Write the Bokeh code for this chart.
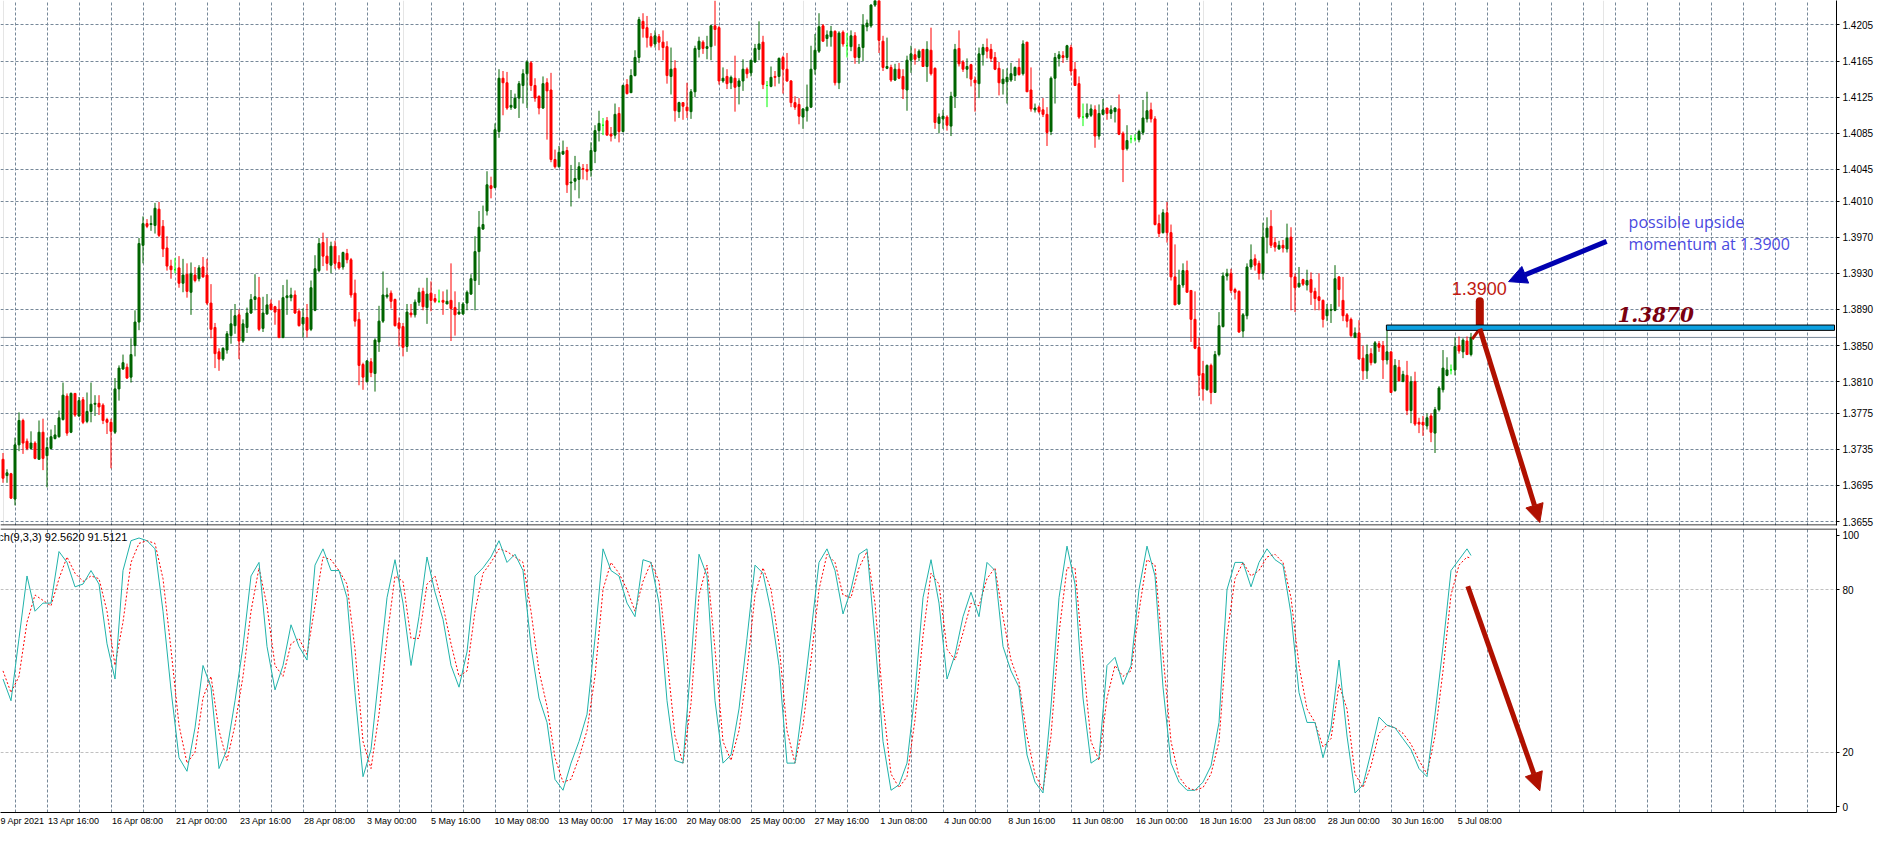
import numpy as np
from bokeh.plotting import figure
from bokeh.models import (Range1d, FixedTicker, Grid, Label, Arrow, NormalHead,
                          BoxAnnotation, ColumnDataSource)
from bokeh.layouts import column
from bokeh.embed import file_html
from bokeh.resources import INLINE

# ---------------- data (H4 candles, values in pips above BASE) ----------------
BASE = 1.3600
PIP = 0.0001

open_pips = [124,106,108,80,140,167,144,136,142,124,154,128,136,147,149,168,194,154,197,172,
190,166,177,185,186,184,168,165,154,202,224,226,215,250,276,361,385,384,383,401,
382,358,338,334,336,319,329,309,328,324,337,328,297,270,243,235,245,261,272,284,
255,270,286,301,303,269,285,296,293,290,259,303,303,306,288,274,281,268,289,333,
364,349,339,360,342,337,352,345,308,279,229,210,232,219,254,277,304,308,301,275,
271,249,286,284,298,310,292,308,302,299,300,296,300,292,285,285,297,307,322,354,
379,399,427,425,487,546,541,514,513,524,538,551,563,538,526,513,541,533,456,448,
462,466,430,432,434,446,445,444,465,488,494,499,484,483,507,487,539,530,549,569,
609,602,592,584,592,586,581,548,557,509,519,514,509,531,578,586,579,581,604,602,
543,548,541,546,537,543,556,552,564,578,586,538,537,548,548,569,556,543,519,517,
503,510,514,556,576,604,590,592,598,541,597,582,581,593,569,580,603,604,627,632,
587,557,558,544,556,548,533,566,572,569,578,559,577,557,496,501,503,493,526,579,
564,556,561,544,540,572,580,578,569,557,540,542,544,549,558,551,586,533,511,514,
511,506,487,546,568,571,569,580,556,540,503,503,505,511,482,506,513,507,509,512,
485,468,479,479,478,486,501,511,501,385,375,397,375,326,296,317,333,311,279,248,
219,201,228,198,240,271,327,330,312,310,266,283,337,346,341,330,370,382,364,357,
361,357,370,326,315,323,317,323,310,304,300,283,289,289,326,300,284,279,259,264,
236,222,241,231,252,250,234,243,200,226,210,217,178,210,165,165,161,172,153,179,
201,217,223,223,250,243,255,240]
high_pips = [131,113,109,148,176,169,147,155,144,167,169,148,157,162,178,209,197,198,197,193,
193,198,209,195,195,186,170,169,214,228,240,230,258,289,369,393,390,394,408,409,
389,371,345,347,349,346,341,342,337,339,348,346,318,275,247,248,266,290,296,290,
279,292,307,329,326,304,307,301,294,300,317,323,314,311,291,291,296,322,350,369,
375,369,365,366,350,354,357,347,323,287,231,234,236,258,294,332,314,311,302,281,
275,296,296,301,314,314,325,321,307,312,310,312,341,310,298,298,311,329,371,399,
405,443,437,496,556,554,553,533,529,543,556,566,565,546,527,548,546,552,467,471,
477,470,450,460,453,451,451,475,494,510,502,503,492,518,514,539,545,556,577,614,
618,615,596,599,595,599,587,580,566,520,519,541,534,582,592,588,593,605,632,604,
558,556,549,571,546,567,558,566,584,609,593,543,559,554,569,571,574,544,526,524,
513,539,582,595,618,606,599,604,599,598,599,596,599,597,584,617,611,628,636,636,
593,591,561,562,563,556,571,582,579,578,578,587,602,558,507,511,505,531,584,599,
566,568,562,548,580,584,590,584,575,564,556,557,563,559,568,588,586,558,518,516,
524,514,548,574,576,576,583,583,564,548,518,518,517,516,517,523,513,516,514,528,
487,494,483,484,489,522,531,519,504,395,401,409,384,362,334,341,344,311,310,259,
233,229,230,244,287,331,335,335,314,311,286,341,362,351,344,386,392,400,370,366,
367,385,381,330,337,324,334,331,314,330,301,296,296,339,327,326,286,281,270,278,
250,251,247,255,255,255,271,243,235,234,222,233,216,221,170,172,175,175,182,205,
245,237,229,259,260,258,260,264]
low_pips = [98,98,80,73,133,130,134,135,124,124,112,93,135,146,148,167,150,153,171,171,
163,164,165,172,173,163,152,114,152,189,223,213,209,238,267,341,380,377,374,370,
348,333,324,330,314,309,303,284,320,321,325,295,258,225,222,233,241,252,263,235,
253,264,285,289,266,265,284,289,273,258,258,284,299,285,271,259,259,266,288,331,
338,333,330,335,334,334,341,303,271,206,201,209,215,199,243,275,302,291,271,249,
238,243,281,281,294,289,274,288,297,297,284,296,255,261,284,284,289,306,289,317,
378,394,413,424,480,505,511,511,512,502,518,513,532,520,506,512,478,453,446,447,
461,419,404,422,413,434,433,437,452,476,483,483,476,479,475,486,528,530,548,563,
591,580,580,580,577,566,540,528,498,502,500,502,501,525,569,573,567,566,582,539,
541,534,534,509,517,532,546,548,563,566,534,514,536,537,540,529,542,514,511,495,
490,498,513,550,574,587,581,581,538,534,581,569,576,562,562,565,598,602,625,574,
554,556,542,543,545,523,510,552,561,565,559,542,549,490,485,490,488,482,513,559,
553,546,537,509,524,560,568,564,555,527,528,518,542,543,549,549,531,509,508,507,
503,471,483,518,559,563,566,549,538,501,493,501,503,469,478,505,500,501,497,483,
431,466,474,476,475,483,497,497,383,370,374,364,322,295,295,314,309,254,246,194,
189,200,185,198,238,270,322,308,301,264,259,279,334,333,323,323,352,358,354,356,
353,353,289,287,314,316,311,295,289,289,270,277,275,288,293,277,270,259,258,235,
212,213,228,230,243,213,229,198,199,210,210,173,164,161,153,150,157,143,131,177,
198,216,218,217,241,236,240,238]
close_pips = [103,109,81,140,167,142,136,142,125,154,125,137,149,151,170,195,153,197,173,189,
165,177,185,186,182,167,165,155,202,225,231,214,240,276,363,385,382,385,402,372,
357,338,334,334,319,328,310,330,322,336,326,297,268,241,235,247,263,274,283,255,
274,286,301,304,268,286,295,290,287,259,303,305,306,286,272,281,267,314,335,363,
349,341,360,341,336,353,345,306,277,228,215,233,220,256,277,306,306,299,272,269,
248,287,284,298,309,293,307,300,299,299,298,299,291,284,287,296,309,324,354,381,
384,428,424,489,546,541,513,516,524,540,551,564,538,524,513,540,532,456,448,464,
465,428,431,435,448,445,443,466,488,496,494,483,482,506,487,538,529,549,569,611,
601,591,582,593,586,580,549,556,510,519,515,510,531,579,587,579,581,604,600,543,
546,540,547,536,543,556,551,566,579,584,539,538,547,547,568,556,543,519,514,504,
512,514,556,577,603,587,594,598,541,596,584,582,593,569,580,605,607,627,632,588,
558,559,544,556,546,534,566,573,567,576,559,578,551,497,503,504,494,526,578,562,
556,559,545,541,573,580,576,568,556,541,545,547,551,558,550,584,531,512,513,509,
506,486,546,569,572,569,582,554,538,503,503,507,512,482,507,511,507,511,513,484,
467,477,479,479,487,502,510,501,384,374,397,375,326,295,317,333,309,279,247,217,
202,228,198,240,272,327,330,311,309,265,284,337,345,339,330,370,380,361,359,361,
358,369,326,314,319,318,322,309,302,300,279,290,290,324,312,283,277,261,264,235,
222,240,231,253,248,234,243,198,228,211,218,178,210,163,163,162,170,154,179,203,
225,223,223,249,244,256,240,259]

# stochastic (9,3,3): readings at every second bar plus the last bar
stoch_bars = list(range(0, 367, 2)) + [367]
stoch_main = [47,39,62,85,72,75,75,94,90,81,82,87,82,60,47,87,98,99,98,95,
72,43,18,13,29,52,44,14,21,39,59,85,90,59,43,52,67,59,54,89,
95,87,87,77,42,11,21,49,77,91,75,52,70,92,79,69,52,44,57,85,
88,92,98,90,93,87,59,40,31,10,6,16,24,34,62,95,87,85,75,70,
91,90,75,39,17,16,53,93,85,39,16,19,36,62,89,86,72,52,16,16,
39,64,90,95,87,71,80,93,95,62,24,6,8,16,42,77,91,75,47,56,
70,79,70,90,87,59,50,44,19,9,5,37,77,96,82,40,16,18,52,55,
45,52,80,96,85,44,16,9,6,6,9,15,31,80,90,90,81,90,95,91,
89,71,42,31,31,18,29,54,26,5,8,20,33,30,29,25,21,14,11,34,
59,87,91,95,92.562]
stoch_signal = [50,42,48,68,78,76,74,84,92,86,83,85,84,72,52,68,90,97,98,97,
84,58,30,16,20,40,48,28,17,30,48,72,88,74,52,48,60,62,56,74,
92,91,87,82,58,24,14,34,62,85,83,62,62,82,85,74,60,48,50,72,
86,90,95,94,92,90,72,50,37,18,9,10,18,28,48,80,90,86,80,72,
83,90,83,55,26,16,38,78,89,58,24,17,28,50,78,88,80,60,28,16,
30,54,80,93,90,78,77,88,94,75,38,12,7,11,32,63,86,82,58,54,
64,75,74,84,88,70,54,46,26,12,6,26,64,88,88,54,24,17,40,52,
48,50,72,91,89,56,24,11,7,6,7,12,24,63,84,90,85,87,92,93,
90,77,52,36,31,22,25,45,36,12,7,15,27,30,29,27,23,17,12,26,
50,78,89,92,91.5121]

price_ticks = [1.4205, 1.4165, 1.4125, 1.4085, 1.4045, 1.4010, 1.3970, 1.3930,
               1.3890, 1.3850, 1.3810, 1.3775, 1.3735, 1.3695, 1.3655]
price_labels = ["1.4205", "1.4165", "1.4125", "1.4085", "1.4045", "1.4010", "1.3970", "1.3930",
                "1.3890", "1.3850", "1.3810", "1.3775", "1.3735", "1.3695", "1.3655"]
time_labels = ["9 Apr 2021", "13 Apr 16:00", "16 Apr 08:00", "21 Apr 00:00", "23 Apr 16:00",
               "28 Apr 08:00", "3 May 00:00", "5 May 16:00", "10 May 08:00", "13 May 00:00",
               "17 May 16:00", "20 May 08:00", "25 May 00:00", "27 May 16:00", "1 Jun 08:00",
               "4 Jun 00:00", "8 Jun 16:00", "11 Jun 08:00", "16 Jun 00:00", "18 Jun 16:00",
               "23 Jun 08:00", "28 Jun 00:00", "30 Jun 16:00", "5 Jul 08:00"]
time_label_bars = [-5, 11, 27, 43, 59, 75, 91, 107, 123, 139, 155, 171, 187, 203, 219,
                   235, 251, 267, 283, 299, 315, 331, 347, 363]
stoch_ticks = [0, 20, 80, 100]
last_price = 1.3859
stoch_last_main = 92.5620
stoch_last_signal = 91.5121

# ---------------- styling ----------------
FONT = "Liberation Sans"
GRID_COLOR = "#778899"
BULL = "#006400"
BEAR = "#FF0000"
DOJI = "#00FF00"

FW = 1836
PH = 525
SH = 284
X0 = -0.625
X1 = X0 + FW / 4.0
PMAX, PMIN = 1.42321, 1.36507
SMIN, SMAX = -2.2, 102.5

o = BASE + np.array(open_pips) * PIP
h = BASE + np.array(high_pips) * PIP
l = BASE + np.array(low_pips) * PIP
c = BASE + np.array(close_pips) * PIP
idx = np.arange(len(o))
cols = np.where(c > o + 1e-9, BULL, np.where(c < o - 1e-9, BEAR, DOJI))
src = ColumnDataSource(dict(x=idx, o=o, h=h, l=l, c=c,
                            top=np.maximum(o, c), bot=np.minimum(o, c), col=cols))

xr = Range1d(X0, X1)

p = figure(frame_width=FW, frame_height=PH, x_range=xr, y_range=Range1d(PMIN, PMAX),
           output_backend="svg", toolbar_location=None, x_axis_location=None,
           y_axis_location="right", min_border_left=0, min_border_top=0,
           min_border_bottom=3, min_border_right=44, outline_line_color=None,
           background_fill_color="white", border_fill_color="white")

ya = p.yaxis[0]
ya.ticker = FixedTicker(ticks=price_ticks)
ya.major_label_overrides = {t: s for t, s in zip(price_ticks, price_labels)}
ya.major_label_text_font = FONT
ya.major_label_text_font_size = "10px"
ya.major_label_text_color = "black"
ya.major_tick_out = 3
ya.major_tick_in = 0
ya.minor_tick_out = 0
ya.minor_tick_in = 0
ya.axis_line_color = "black"
ya.major_tick_line_color = "black"
ya.major_label_standoff = 3

p.ygrid.ticker = FixedTicker(ticks=price_ticks)
p.ygrid.grid_line_color = GRID_COLOR
p.ygrid.grid_line_dash = "3 2"
p.add_layout(Grid(dimension=0, ticker=FixedTicker(ticks=list(range(3, int(X1) + 1, 8))),
                  grid_line_color=GRID_COLOR, grid_line_dash="3 2"))

# current price line
p.segment(x0=X0, x1=X1, y0=last_price, y1=last_price, line_color="#778899", line_width=1)

# candles
p.segment(x0="x", x1="x", y0="h", y1="l", line_color="col", line_width=1, source=src)
p.vbar(x="x", width=0.5, top="top", bottom="bot", fill_color="col", line_color="col",
       line_width=1, source=src)

# bottom border of price panel
yb = PMIN + 0.5 * (PMAX - PMIN) / PH
p.segment(x0=X0, x1=X1, y0=yb, y1=yb, line_color="black", line_width=1)

# current price tag on axis
p.add_layout(Label(x=FW + 2, x_units="screen", y=last_price, text="1.3859",
                   text_font=FONT, text_font_size="10px", text_color="white",
                   text_baseline="middle", background_fill_color="black",
                   padding=1))

# annotations
p.add_layout(BoxAnnotation(left=345.85, right=X1 - 0.5, bottom=1.38668, top=1.38727,
                           fill_color="#0CA0E0", fill_alpha=1.0, line_color="black",
                           line_alpha=1.0, line_width=1))
p.add_layout(Label(x=403.6, y=1.38763, text="1.3870", text_font="DejaVu Serif",
                   text_font_style="bold italic", text_font_size="20px",
                   text_color="#7A0010"))
p.add_layout(Label(x=362.2, y=1.39059, text="1.3900", text_font=FONT,
                   text_font_size="18px", text_color="#C01A10"))
p.add_layout(Label(x=406.4, y=1.39750, text="possible upside", text_font="Open Sans",
                   text_font_size="16px", text_color="#4A4AE0"))
p.add_layout(Label(x=406.4, y=1.39501, text="momentum at 1.3900", text_font="Open Sans",
                   text_font_size="16px", text_color="#4A4AE0"))
p.add_layout(Arrow(x_start=400.9, y_start=1.39653, x_end=376.4, y_end=1.39208,
                   line_color="#0000B0", line_width=5,
                   end=NormalHead(size=18, fill_color="#0000B0", line_color="#0000B0")))
p.segment(x0=369.2, x1=369.2, y0=1.38990, y1=1.38700, line_color="#B01000", line_width=8,
          line_cap="round")
p.segment(x0=369.2, x1=367.3, y0=1.38687, y1=1.38570, line_color="#B01000", line_width=3)
p.add_layout(Arrow(x_start=369.2, y_start=1.38687, x_end=384.2, y_end=1.36540,
                   line_color="#B01000", line_width=5,
                   end=NormalHead(size=18, fill_color="#B01000", line_color="#B01000")))

# ---------------- stochastic panel ----------------
s = figure(frame_width=FW, frame_height=SH, x_range=xr, y_range=Range1d(SMIN, SMAX),
           output_backend="svg", toolbar_location=None, y_axis_location="right",
           min_border_left=0, min_border_top=0, min_border_bottom=0, min_border_right=44,
           outline_line_color=None, background_fill_color="white", border_fill_color="white")

sy = s.yaxis[0]
sy.ticker = FixedTicker(ticks=stoch_ticks)
sy.major_label_text_font = FONT
sy.major_label_text_font_size = "10px"
sy.major_label_text_color = "black"
sy.major_tick_out = 3
sy.major_tick_in = 0
sy.minor_tick_out = 0
sy.minor_tick_in = 0
sy.axis_line_color = "black"
sy.major_label_standoff = 3

s.ygrid.ticker = FixedTicker(ticks=[20, 80])
s.ygrid.grid_line_color = "#C0C0C0"
s.ygrid.grid_line_dash = "3 2"
s.xgrid.visible = False
s.add_layout(Grid(dimension=0, ticker=FixedTicker(ticks=list(range(3, int(X1) + 1, 8))),
                  grid_line_color=GRID_COLOR, grid_line_dash="3 2"))

sx = s.xaxis[0]
centers = [round(b + (1 + 2.15 * len(t)) / 4.0, 3) for b, t in zip(time_label_bars, time_labels)]
sx.ticker = FixedTicker(ticks=centers)
sx.major_label_overrides = {cc: t for cc, t in zip(centers, time_labels)}
sx.major_label_text_font = FONT
sx.major_label_text_font_size = "9px"
sx.major_label_text_color = "black"
sx.major_tick_out = 0
sx.major_tick_in = 0
sx.minor_tick_out = 0
sx.minor_tick_in = 0
sx.axis_line_color = "black"
sx.major_label_standoff = 3

yt = SMAX - 0.5 * (SMAX - SMIN) / SH
s.segment(x0=X0, x1=X1, y0=yt, y1=yt, line_color="black", line_width=1)

s.line(stoch_bars, stoch_signal, line_color="#FF0000", line_width=1, line_dash="2 2")
s.line(stoch_bars, stoch_main, line_color="#20B2AA", line_width=1)

s.add_layout(Label(x=-5.3, y=99.4, text="Stoch(9,3,3) %.4f %.4f" % (stoch_last_main, stoch_last_signal),
                   text_font=FONT, text_font_size="11px", text_color="black",
                   text_baseline="middle"))
s.add_layout(Arrow(x_start=366.2, y_start=81.2, x_end=384.2, y_end=5.8,
                   line_color="#B01000", line_width=5,
                   end=NormalHead(size=18, fill_color="#B01000", line_color="#B01000")))

layout = column(p, s, spacing=0)
open("out.html", "w").write(file_html(layout, INLINE))
